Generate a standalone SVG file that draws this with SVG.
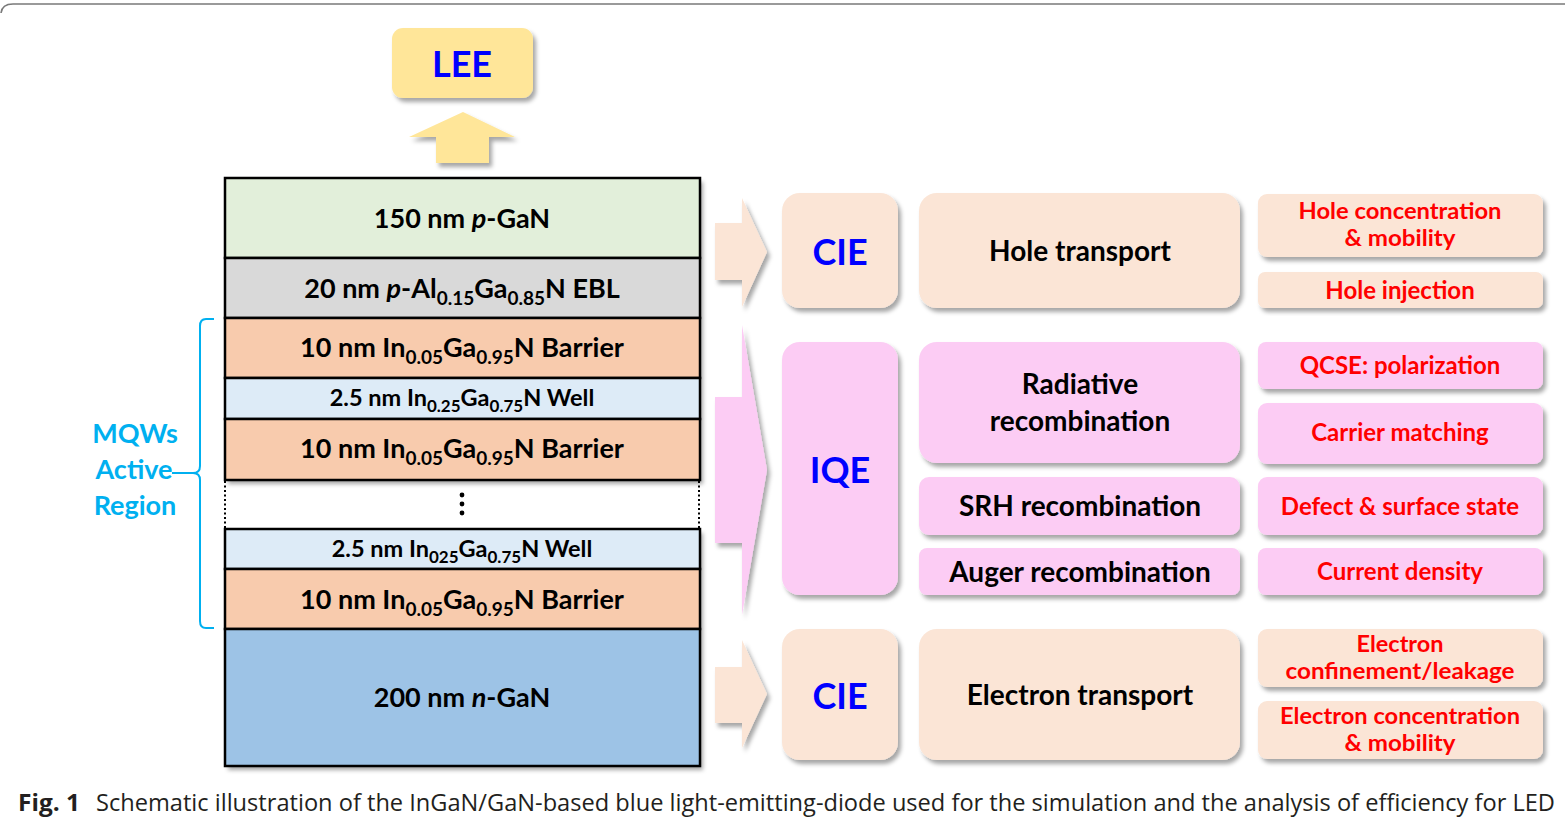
<svg xmlns="http://www.w3.org/2000/svg" width="1565" height="818" viewBox="0 0 1565 818">
<defs>
<filter id="sh" x="-10%" y="-10%" width="130%" height="130%">
<feDropShadow dx="3" dy="4" stdDeviation="2.2" flood-color="#000" flood-opacity="0.35"/>
</filter>
<style>
.t{font-family:Lato,"Open Sans","Liberation Sans",sans-serif;font-weight:bold;text-anchor:middle}
.blk{fill:#000;font-size:28px}
.lay{fill:#000;font-size:27px}
.well{fill:#000;font-size:23.5px}
.red{fill:#FF0000;font-size:24px}
.red2{fill:#FF0000;font-size:22px}
.big{fill:#0000FF;font-size:36px}
.peach{fill:#FBE5D6}
.pink{fill:#FCCCF4}
.layer{stroke:#000;stroke-width:2.5}
</style>
</defs>
<rect width="1565" height="818" fill="#fff"/>
<path d="M1,13 Q2,4 13,4 L1565,4" fill="none" stroke="#7a7a7a" stroke-width="1.6"/>

<g id="lee">
<rect x="392" y="28" width="141" height="70" rx="11" fill="#FFE699" filter="url(#sh)"/>
<text class="t big" x="462" y="77">LEE</text>
</g>

<g id="connectors">
<path d="M463,112 L515,137 L489,137 L489,163 L436,163 L436,137 L409,137 Z" fill="#FFE699" filter="url(#sh)"/>
<path d="M715,223 L742,223 L742,198 L767,252 L742,307 L742,280 L715,280 Z" fill="#FBE5D6" filter="url(#sh)"/>
<path d="M715,397 L742,397 L742,325 L767,470 L742,615 L742,543 L715,543 Z" fill="#FCCCF4" filter="url(#sh)"/>
<path d="M715,667 L742,667 L742,640 L767,694 L742,748 L742,723 L715,723 Z" fill="#FBE5D6" filter="url(#sh)"/>
</g>

<g id="stack">
<g filter="url(#sh)">
<rect x="225" y="178" width="475" height="302" fill="#fff"/>
<rect x="225" y="529" width="475" height="237" fill="#fff"/>
</g>
<g id="pgan"><rect class="layer" x="225" y="178" width="475" height="80" fill="#E2EFDA"/>
<text class="t lay" x="462" y="228">150 nm <tspan font-style="italic">p</tspan>-GaN</text></g>
<g id="ebl"><rect class="layer" x="225" y="258" width="475" height="60" fill="#D9D9D9"/>
<text class="t lay" x="462" y="298">20 nm <tspan font-style="italic">p</tspan>-Al<tspan font-size="19" dy="7">0.15</tspan><tspan dy="-7">Ga</tspan><tspan font-size="19" dy="7">0.85</tspan><tspan dy="-7">N EBL</tspan></text></g>
<g id="barrier1"><rect class="layer" x="225" y="318" width="475" height="60" fill="#F8CBAD"/>
<text class="t lay" x="462" y="357">10 nm In<tspan font-size="19" dy="7">0.05</tspan><tspan dy="-7">Ga</tspan><tspan font-size="19" dy="7">0.95</tspan><tspan dy="-7">N Barrier</tspan></text></g>
<g id="well1"><rect class="layer" x="225" y="378" width="475" height="41" fill="#DDEBF7"/>
<text class="t well" x="462" y="406">2.5 nm In<tspan font-size="17" dy="6">0.25</tspan><tspan dy="-6">Ga</tspan><tspan font-size="17" dy="6">0.75</tspan><tspan dy="-6">N Well</tspan></text></g>
<g id="barrier2"><rect class="layer" x="225" y="419" width="475" height="61" fill="#F8CBAD"/>
<text class="t lay" x="462" y="458">10 nm In<tspan font-size="19" dy="7">0.05</tspan><tspan dy="-7">Ga</tspan><tspan font-size="19" dy="7">0.95</tspan><tspan dy="-7">N Barrier</tspan></text></g>
<g id="gap">
<line x1="225" y1="481" x2="225" y2="529" stroke="#000" stroke-width="2" stroke-dasharray="2,2.5"/>
<line x1="699" y1="481" x2="699" y2="529" stroke="#000" stroke-width="2" stroke-dasharray="2,2.5"/>
<circle cx="462" cy="495" r="2.4" fill="#000"/><circle cx="462" cy="504" r="2.4" fill="#000"/><circle cx="462" cy="513" r="2.4" fill="#000"/>
</g>
<g id="well2"><rect class="layer" x="225" y="529" width="475" height="40" fill="#DDEBF7"/>
<text class="t well" x="462" y="557">2.5 nm In<tspan font-size="17" dy="6">025</tspan><tspan dy="-6">Ga</tspan><tspan font-size="17" dy="6">0.75</tspan><tspan dy="-6">N Well</tspan></text></g>
<g id="barrier3"><rect class="layer" x="225" y="569" width="475" height="60" fill="#F8CBAD"/>
<text class="t lay" x="462" y="609">10 nm In<tspan font-size="19" dy="7">0.05</tspan><tspan dy="-7">Ga</tspan><tspan font-size="19" dy="7">0.95</tspan><tspan dy="-7">N Barrier</tspan></text></g>
<g id="ngan"><rect class="layer" x="225" y="629" width="475" height="137" fill="#9DC3E6"/>
<text class="t lay" x="462" y="707">200 nm <tspan font-style="italic">n</tspan>-GaN</text></g>
</g>

<g id="mqw">
<path d="M214,319 L206,319 Q200,319 200,326 L200,466 Q200,473 193,473 L172,473 M193,473 Q200,473 200,480 L200,621 Q200,628 206,628 L214,628" fill="none" stroke="#00B0F0" stroke-width="2"/>
<g class="t" fill="#00B0F0" font-size="27">
<text x="135" y="443">MQWs</text>
<text x="134" y="479">Active</text>
<text x="135" y="515">Region</text>
</g>
</g>

<g id="cie-top"><rect class="peach" x="782" y="193" width="116" height="115" rx="18" filter="url(#sh)"/>
<text class="t big" x="840" y="265">CIE</text></g>
<g id="iqe"><rect class="pink" x="782" y="342" width="116" height="253" rx="18" filter="url(#sh)"/>
<text class="t big" x="840" y="483">IQE</text></g>
<g id="cie-bot"><rect class="peach" x="782" y="629" width="116" height="131" rx="18" filter="url(#sh)"/>
<text class="t big" x="840" y="709">CIE</text></g>

<g id="hole-transport"><rect class="peach" x="919" y="193" width="321" height="115" rx="18" filter="url(#sh)"/>
<text class="t blk" x="1080" y="261">Hole transport</text></g>
<g id="radiative"><rect class="pink" x="919" y="342" width="321" height="121" rx="18" filter="url(#sh)"/>
<text class="t blk" x="1080" y="394">Radiative</text>
<text class="t blk" x="1080" y="431">recombination</text></g>
<g id="srh"><rect class="pink" x="919" y="477" width="321" height="58" rx="10" filter="url(#sh)"/>
<text class="t blk" x="1080" y="516">SRH recombination</text></g>
<g id="auger"><rect class="pink" x="919" y="548" width="321" height="47" rx="8" filter="url(#sh)"/>
<text class="t blk" x="1080" y="582">Auger recombination</text></g>
<g id="electron-transport"><rect class="peach" x="919" y="629" width="321" height="131" rx="18" filter="url(#sh)"/>
<text class="t blk" x="1080" y="705">Electron transport</text></g>

<g id="hole-conc"><rect class="peach" x="1258" y="194" width="285" height="63" rx="9" filter="url(#sh)"/>
<text class="t red2" x="1400" y="219" textLength="203" lengthAdjust="spacingAndGlyphs">Hole concentration</text>
<text class="t red2" x="1400" y="246" textLength="111" lengthAdjust="spacingAndGlyphs">&amp; mobility</text></g>
<g id="hole-inj"><rect class="peach" x="1258" y="272" width="285" height="36" rx="7" filter="url(#sh)"/>
<text class="t red" x="1400" y="299">Hole injection</text></g>
<g id="qcse"><rect class="pink" x="1258" y="342" width="285" height="47" rx="8" filter="url(#sh)"/>
<text class="t red" x="1400" y="374">QCSE: polarization</text></g>
<g id="carrier"><rect class="pink" x="1258" y="403" width="285" height="61" rx="9" filter="url(#sh)"/>
<text class="t red" x="1400" y="441">Carrier matching</text></g>
<g id="defect"><rect class="pink" x="1258" y="477" width="285" height="58" rx="9" filter="url(#sh)"/>
<text class="t red" x="1400" y="515">Defect &amp; surface state</text></g>
<g id="current"><rect class="pink" x="1258" y="548" width="285" height="47" rx="8" filter="url(#sh)"/>
<text class="t red" x="1400" y="580">Current density</text></g>
<g id="e-conf"><rect class="peach" x="1258" y="629" width="285" height="58" rx="9" filter="url(#sh)"/>
<text class="t red2" x="1400" y="652" textLength="87" lengthAdjust="spacingAndGlyphs">Electron</text>
<text class="t red2" x="1400" y="679" textLength="229" lengthAdjust="spacingAndGlyphs">confinement/leakage</text></g>
<g id="e-conc"><rect class="peach" x="1258" y="701" width="285" height="58" rx="9" filter="url(#sh)"/>
<text class="t red2" x="1400" y="724" textLength="240" lengthAdjust="spacingAndGlyphs">Electron concentration</text>
<text class="t red2" x="1400" y="751" textLength="111" lengthAdjust="spacingAndGlyphs">&amp; mobility</text></g>

<g id="caption" font-family="'Open Sans','Noto Sans','Liberation Sans',sans-serif" fill="#231F20" font-size="23">
<text x="18" y="811" font-weight="bold" textLength="62" lengthAdjust="spacingAndGlyphs">Fig. 1</text>
<text x="96" y="811" textLength="1459" lengthAdjust="spacingAndGlyphs">Schematic illustration of the InGaN/GaN-based blue light-emitting-diode used for the simulation and the analysis of efficiency for LED</text>
</g>
</svg>
